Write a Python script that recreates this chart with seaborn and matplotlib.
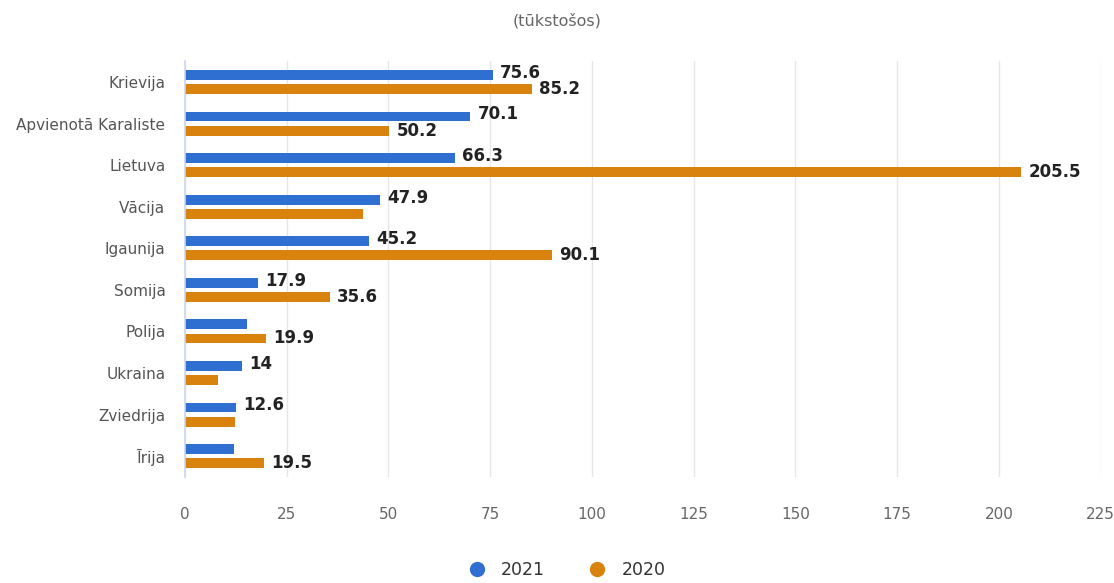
import matplotlib
matplotlib.use("Agg")
import matplotlib.pyplot as plt
import seaborn as sns
import pandas as pd
import numpy as np
from matplotlib.ticker import FixedLocator
from matplotlib.lines import Line2D

categories = ["Krievija", "Apvienotā Karaliste", "Lietuva", "Vācija", "Igaunija",
              "Somija", "Polija", "Ukraina", "Zviedrija", "Īrija"]
values_2021 = [75.6, 70.1, 66.3, 47.9, 45.2, 17.9, 15.3, 14.0, 12.6, 12.0]
values_2020 = [85.2, 50.2, 205.5, 43.8, 90.1, 35.6, 19.9, 8.1, 12.3, 19.5]
# which data labels are visible in the reference
show_2021 = [True, True, True, True, True, True, False, True, True, False]
show_2020 = [True, True, True, False, True, True, True, False, False, True]
series = ["2021", "2020"]
x_ticks = [0, 25, 50, 75, 100, 125, 150, 175, 200, 225]

colors = {"2021": "#2f6fd2", "2020": "#d9820e"}

df = pd.DataFrame({
    "country": categories * 2,
    "value": values_2021 + values_2020,
    "year": ["2021"] * len(categories) + ["2020"] * len(categories),
})

sns.set_style("white")
plt.rcParams["font.family"] = ["Liberation Sans Narrow", "DejaVu Sans"]

fig = plt.figure(figsize=(11.14, 5.83), dpi=100)
ax = fig.add_axes([0.166, 0.182, 0.822, 0.713])

sns.barplot(data=df, y="country", x="value", hue="year", hue_order=series,
            order=categories, palette=colors, orient="h", width=0.68, gap=0.30,
            saturation=1, edgecolor="none", ax=ax, legend=False)

ax.set_xlim(0, 225)
ax.set_ylim(len(categories) - 0.5, -0.5)
ax.xaxis.set_major_locator(FixedLocator(x_ticks))
ax.set_xticklabels([str(t) for t in x_ticks])
ax.grid(axis="x", color="#e6e6e6", linewidth=1)
ax.set_axisbelow(True)
for s in ["top", "right", "bottom"]:
    ax.spines[s].set_visible(False)
ax.spines["left"].set_color("#ccd6eb")
ax.spines["left"].set_linewidth(1.2)
ax.set_xlabel("")
ax.set_ylabel("")
ax.tick_params(axis="x", length=0, labelsize=11, labelcolor="#666666", pad=22)
ax.tick_params(axis="y", which="major", length=0, labelsize=11, labelcolor="#555555", pad=14)
ax.yaxis.set_minor_locator(FixedLocator(np.arange(-0.5, len(categories), 1.0)))
ax.tick_params(axis="y", which="minor", length=10, color="#ccd6eb", width=1.2)

# data labels
offset = 0.17
for i in range(len(categories)):
    if show_2021[i]:
        v = values_2021[i]
        ax.text(v + 1.8, i - offset - 0.05, f"{v:g}", va="center", ha="left",
                fontsize=12, fontweight="bold", color="#222222")
    if show_2020[i]:
        v = values_2020[i]
        ax.text(v + 1.8, i + offset, f"{v:g}", va="center", ha="left",
                fontsize=12, fontweight="bold", color="#222222")

fig.text(0.5, 0.965, "(tūkstošos)", ha="center", va="center", fontsize=11.5, color="#666666")

handles = [Line2D([0], [0], marker="o", linestyle="none", markersize=11,
                  markerfacecolor=colors[s], markeredgecolor="none") for s in series]
fig.legend(handles, series, loc="center", bbox_to_anchor=(0.505, 0.022), ncol=2,
           frameon=False, fontsize=12.5, handletextpad=0.4, columnspacing=2.0,
           labelcolor="#333333")

fig.savefig("out.png", dpi=100)
